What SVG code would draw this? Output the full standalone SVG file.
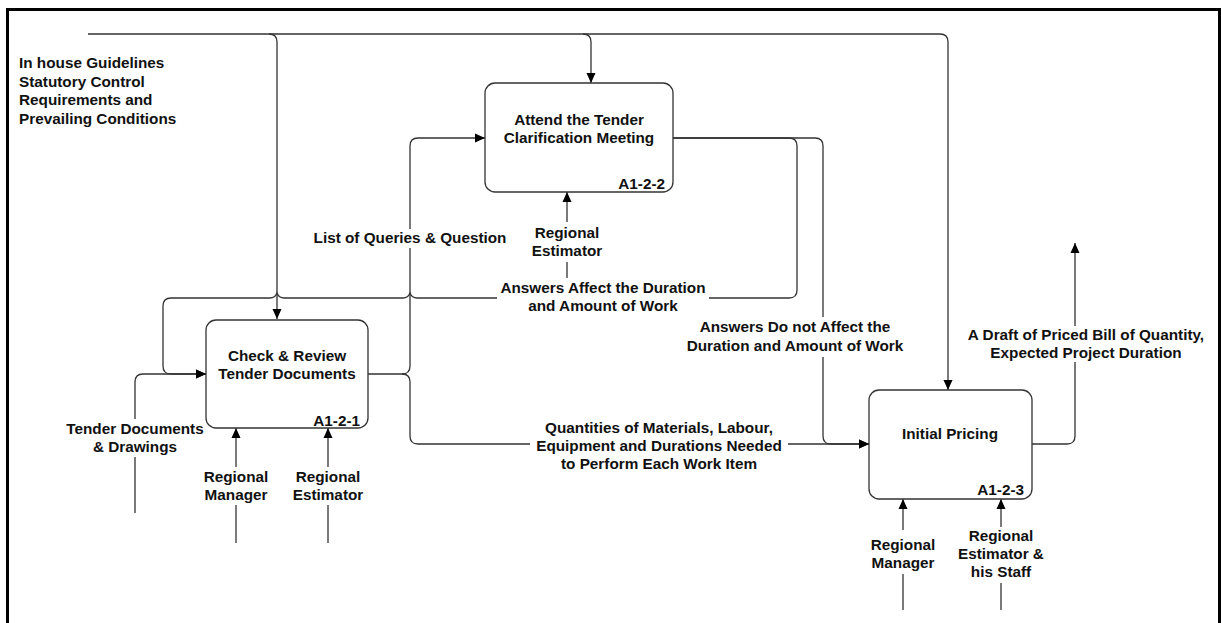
<svg xmlns="http://www.w3.org/2000/svg" width="1221" height="623" viewBox="0 0 1221 623">
<style>
text{font-family:"Liberation Sans",Arial,sans-serif;font-weight:bold;font-size:15.3px;fill:#111}
.c{text-anchor:middle}
.r{text-anchor:end}
.box{fill:#fff;stroke:#333;stroke-width:1.3}
.ln{fill:none;stroke:#333;stroke-width:1.3}
.bg{fill:#fff}
</style>
<defs>
<marker id="ah" viewBox="0 0 10 10" refX="10" refY="5" markerWidth="10" markerHeight="10" markerUnits="userSpaceOnUse" orient="auto">
<path d="M0,0.5 L10,5 L0,9.5 z" fill="#000"/>
</marker>
</defs>
<rect width="1221" height="623" fill="#fff"/>
<path d="M7.5,623 V9.5 H1219.5 V623" fill="none" stroke="#000" stroke-width="3"/>

<g id="connectors">
<path class="ln" d="M88,34 H269 Q277,34 277,42 V319" marker-end="url(#ah)"/>
<path class="ln" d="M269,34 H583 Q591,34 591,42 V83" marker-end="url(#ah)"/>
<path class="ln" d="M583,34 H940 Q948,34 948,42 V390" marker-end="url(#ah)"/>
<path class="ln" d="M135,513 V382 Q135,374 143,374 H206" marker-end="url(#ah)"/>
<path class="ln" d="M673,138 H789 Q797,138 797,146 V290 Q797,298 789,298 H417 Q412,298 410,293 Q408,298 403,298 H284 Q279,298 277,293 Q275,298 270,298 H171 Q163,298 163,306 V366 Q163,374 171,374 H206" marker-end="url(#ah)"/>
<path class="ln" d="M673,138 H815 Q823,138 823,146 V436 Q823,444 831,444 H869" marker-end="url(#ah)"/>
<path class="ln" d="M368,374 H402 Q410,374 410,366 V146 Q410,138 418,138 H485" marker-end="url(#ah)"/>
<path class="ln" d="M402,374 Q410,374 410,382 V436 Q410,444 418,444 H869" marker-end="url(#ah)"/>
<path class="ln" d="M1032,444 H1067 Q1075,444 1075,436 V243" marker-end="url(#ah)"/>
<path class="ln" d="M236,543 V428" marker-end="url(#ah)"/>
<path class="ln" d="M328,543 V428" marker-end="url(#ah)"/>
<path class="ln" d="M567,278 V192" marker-end="url(#ah)"/>
<path class="ln" d="M903,610 V499" marker-end="url(#ah)"/>
<path class="ln" d="M1001,610 V499" marker-end="url(#ah)"/>
</g>

<g id="node-check">
<rect class="box" x="206" y="320" width="162" height="108" rx="10"/>
<text class="c" x="287" y="361">Check &amp; Review</text>
<text class="c" x="287" y="379">Tender Documents</text>
<text class="r" x="360" y="426">A1-2-1</text>
</g>
<g id="node-attend">
<rect class="box" x="485" y="83" width="188" height="109" rx="10"/>
<text class="c" x="579" y="125">Attend the Tender</text>
<text class="c" x="579" y="143">Clarification Meeting</text>
<text class="r" x="665" y="189">A1-2-2</text>
</g>
<g id="node-pricing">
<rect class="box" x="869" y="390" width="163" height="109" rx="10"/>
<text class="c" x="950" y="439">Initial Pricing</text>
<text class="r" x="1024" y="495">A1-2-3</text>
</g>

<g id="labels">
<text x="19" y="68">In house Guidelines</text>
<text x="19" y="86.6">Statutory Control</text>
<text x="19" y="105.2">Requirements and</text>
<text x="19" y="123.8">Prevailing Conditions</text>

<rect class="bg" x="310" y="229" width="200" height="19"/>
<text class="c" x="410" y="243">List of Queries &amp; Question</text>

<rect class="bg" x="531" y="222" width="72" height="40"/>
<text class="c" x="567" y="238">Regional</text>
<text class="c" x="567" y="256">Estimator</text>

<rect class="bg" x="497" y="279" width="212" height="36"/>
<text class="c" x="603" y="293">Answers Affect the Duration</text>
<text class="c" x="603" y="311">and Amount of Work</text>

<rect class="bg" x="684" y="317" width="222" height="40"/>
<text class="c" x="795" y="332">Answers Do not Affect the</text>
<text class="c" x="795" y="351">Duration and Amount of Work</text>

<rect class="bg" x="962" y="326" width="248" height="36"/>
<text class="c" x="1086" y="340">A Draft of Priced Bill of Quantity,</text>
<text class="c" x="1086" y="358">Expected Project Duration</text>

<rect class="bg" x="530" y="419" width="258" height="55"/>
<text class="c" x="659" y="433">Quantities of Materials, Labour,</text>
<text class="c" x="659" y="451">Equipment and Durations Needed</text>
<text class="c" x="659" y="469">to Perform Each Work Item</text>

<rect class="bg" x="65" y="419" width="140" height="38"/>
<text class="c" x="135" y="434">Tender Documents</text>
<text class="c" x="135" y="452">&amp; Drawings</text>

<rect class="bg" x="199" y="467" width="74" height="38"/>
<text class="c" x="236" y="482">Regional</text>
<text class="c" x="236" y="500">Manager</text>

<rect class="bg" x="291" y="467" width="74" height="38"/>
<text class="c" x="328" y="482">Regional</text>
<text class="c" x="328" y="500">Estimator</text>

<rect class="bg" x="866" y="530" width="74" height="44"/>
<text class="c" x="903" y="550">Regional</text>
<text class="c" x="903" y="568">Manager</text>

<rect class="bg" x="960" y="527" width="82" height="56"/>
<text class="c" x="1001" y="541">Regional</text>
<text class="c" x="1001" y="559">Estimator &amp;</text>
<text class="c" x="1001" y="577">his Staff</text>
</g>
</svg>
